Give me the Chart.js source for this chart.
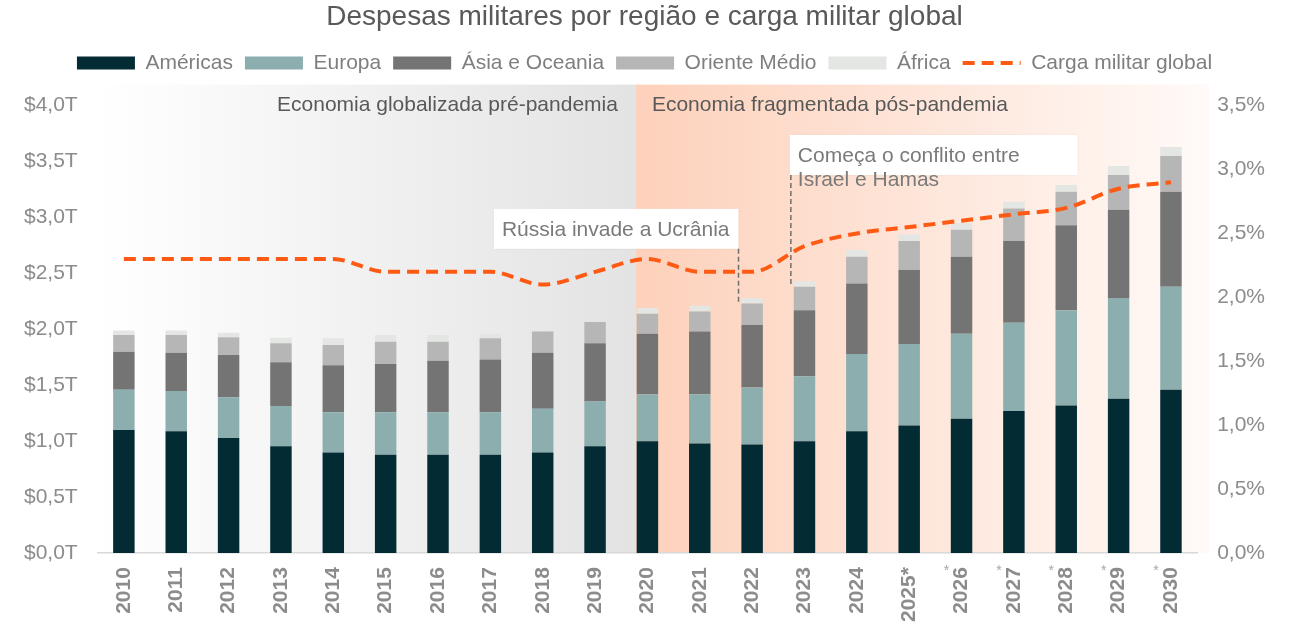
<!DOCTYPE html>
<html>
<head>
<meta charset="utf-8">
<script src="https://cdn.jsdelivr.net/npm/chart.js@4.4.0/dist/chart.umd.min.js"></script>
<style>
  html, body { margin: 0; padding: 0; background: #fff; }
  #wrap { width: 1297px; height: 632px; }
</style>
</head>
<body>
<div id="wrap"><canvas id="militaryChart"></canvas></div>
<script>
const years = ['2010', '2011', '2012', '2013', '2014', '2015', '2016', '2017', '2018', '2019',
  '2020', '2021', '2022', '2023', '2024', '2025*', '2026', '2027', '2028', '2029', '2030']
const starredYears = ['2026', '2027', '2028', '2029', '2030']

// trillions of USD
const americas = [1.10, 1.09, 1.03, 0.955, 0.90, 0.88, 0.88, 0.88, 0.90, 0.955,
  1.00, 0.98, 0.97, 1.00, 1.09, 1.14, 1.20, 1.27, 1.32, 1.38, 1.46]
const europe = [0.36, 0.36, 0.36, 0.36, 0.36, 0.38, 0.38, 0.38, 0.39, 0.40,
  0.42, 0.44, 0.51, 0.58, 0.69, 0.73, 0.76, 0.79, 0.85, 0.90, 0.92]
const asiaOceania = [0.34, 0.34, 0.38, 0.39, 0.42, 0.43, 0.46, 0.47, 0.50, 0.52,
  0.54, 0.56, 0.56, 0.59, 0.63, 0.66, 0.69, 0.73, 0.76, 0.79, 0.85]
const middleEast = [0.15, 0.16, 0.16, 0.17, 0.18, 0.20, 0.17, 0.19, 0.19, 0.19,
  0.18, 0.18, 0.19, 0.21, 0.24, 0.26, 0.24, 0.29, 0.30, 0.31, 0.32]
const africa = [0.04, 0.04, 0.04, 0.05, 0.06, 0.06, 0.06, 0.04, 0.01, 0.01,
  0.05, 0.05, 0.05, 0.05, 0.06, 0.06, 0.06, 0.06, 0.06, 0.08, 0.08]
// percent of global GDP
const militaryBurden = [2.3, 2.3, 2.3, 2.3, 2.3, 2.2, 2.2, 2.2, 2.1, 2.2,
  2.3, 2.2, 2.2, 2.4, 2.5, 2.55, 2.6, 2.65, 2.7, 2.85, 2.9]

const eraLabels = ['Economia globalizada pré-pandemia', 'Economia fragmentada pós-pandemia']
const eraSplitYear = '2020'

const events = [
  { lines: ['Rússia invade a Ucrânia'], year: '2022', boxBottom: 2.72, lineEnd: 2.23, side: 'left' },
  { lines: ['Começa o conflito entre', 'Israel e Hamas'], year: '2023', boxBottom: 3.38, lineEnd: 2.40, side: 'right' }
]

const FONT = '"Liberation Sans", Arial, sans-serif'
const textGray = '#595959'
const tickGray = '#8c8c8c'
const burdenDash = [12, 7]

const ctx = document.getElementById('militaryChart').getContext('2d')

function barSet(label, data, color) {
  return {
    type: 'bar',
    label: label,
    data: data,
    backgroundColor: color,
    borderWidth: 0,
    pointStyle: 'rect',
    yAxisID: 'y',
    order: 2,
    categoryPercentage: 0.41,
    barPercentage: 1
  }
}

const legendSpace = {
  id: 'legendSpace',
  beforeInit(chart) {
    const fit = chart.legend.fit
    chart.legend.fit = function () {
      fit.bind(chart.legend)()
      this.height += 22
    }
  }
}

const backdrop = {
  id: 'backdrop',
  beforeDraw(chart) {
    const { ctx, chartArea, scales } = chart
    const x = scales.x
    const step = x.width / years.length
    const top = chartArea.top - 21
    const bottom = chartArea.bottom
    const split = x.getPixelForValue(years.indexOf(eraSplitYear)) - step * 0.22
    const right = chartArea.right + 12

    ctx.save()
    let g = ctx.createLinearGradient(chartArea.left, 0, split, 0)
    g.addColorStop(0, '#ffffff')
    g.addColorStop(1, '#e3e3e3')
    ctx.fillStyle = g
    ctx.fillRect(chartArea.left, top, split - chartArea.left, bottom - top)

    g = ctx.createLinearGradient(split, 0, right, 0)
    g.addColorStop(0, '#fdd1bb')
    g.addColorStop(1, '#fffaf8')
    ctx.fillStyle = g
    ctx.fillRect(split, top, right - split, bottom - top)

    ctx.font = '21px ' + FONT
    ctx.fillStyle = textGray
    ctx.textBaseline = 'middle'
    ctx.textAlign = 'right'
    ctx.fillText(eraLabels[0], split - 18, chartArea.top)
    ctx.textAlign = 'left'
    ctx.fillText(eraLabels[1], split + 16, chartArea.top)
    ctx.restore()
  }
}

const callouts = {
  id: 'callouts',
  afterDraw(chart) {
    const { ctx, chartArea, scales } = chart
    const x = scales.x
    const y = scales.y
    const step = x.width / years.length
    ctx.save()
    ctx.font = '21px ' + FONT
    events.forEach(ev => {
      const lineX = x.getPixelForValue(years.indexOf(ev.year)) - step * 0.26
      const bottom = y.getPixelForValue(ev.boxBottom)
      const textW = ctx.measureText(ev.lines[0]).width
      const boxH = 40
      let boxL, boxW
      if (ev.side === 'left') {
        boxW = textW + 17
        boxL = lineX - boxW
      } else {
        boxW = textW + 66
        boxL = lineX - 1
      }
      ctx.fillStyle = '#ffffff'
      ctx.shadowColor = 'rgba(0,0,0,0.08)'
      ctx.shadowBlur = 3
      ctx.fillRect(boxL, bottom - boxH, boxW, boxH)
      ctx.shadowBlur = 0
      ctx.shadowColor = 'transparent'

      ctx.strokeStyle = '#6f6f6f'
      ctx.lineWidth = 1.5
      ctx.setLineDash([5, 3])
      ctx.beginPath()
      ctx.moveTo(lineX, bottom)
      ctx.lineTo(lineX, y.getPixelForValue(ev.lineEnd))
      ctx.stroke()
      ctx.setLineDash([])

      ctx.fillStyle = '#7a7a7a'
      ctx.textAlign = 'left'
      ctx.textBaseline = 'middle'
      ev.lines.forEach((line, i) => {
        ctx.fillText(line, boxL + 8, bottom - boxH / 2 + 1 + i * 24)
      })
    })

    // footnote marks on projected years
    ctx.font = '14px ' + FONT
    ctx.fillStyle = '#a6a6a6'
    ctx.textAlign = 'center'
    ctx.textBaseline = 'middle'
    starredYears.forEach(yr => {
      const px = x.getPixelForValue(years.indexOf(yr))
      ctx.fillText('*', px - 15, chartArea.bottom + 18)
    })
    ctx.restore()
  }
}

new Chart(ctx, {
  data: {
    labels: years,
    datasets: [
      barSet('Américas', americas, '#022b34'),
      barSet('Europa', europe, '#8daeae'),
      barSet('Ásia e Oceania', asiaOceania, '#747474'),
      barSet('Oriente Médio', middleEast, '#b6b6b6'),
      barSet('África', africa, '#e4e6e4'),
      {
        type: 'line',
        label: 'Carga militar global',
        data: militaryBurden,
        borderColor: '#fe5a14',
        backgroundColor: '#fe5a14',
        borderWidth: 4,
        borderDash: burdenDash,
        borderCapStyle: 'butt',
        cubicInterpolationMode: 'monotone',
        pointRadius: 0,
        pointStyle: 'line',
        yAxisID: 'y1',
        order: 0
      }
    ]
  },
  options: {
    responsive: true,
    maintainAspectRatio: false,
    animation: false,
    layout: { padding: { left: 12, right: 20, top: 0, bottom: 4 } },
    plugins: {
      title: {
        display: true,
        text: 'Despesas militares por região e carga militar global',
        color: textGray,
        font: { family: FONT, size: 28, weight: 'normal' },
        padding: { top: 0, bottom: 7 }
      },
      legend: {
        display: true,
        labels: {
          usePointStyle: true,
          pointStyleWidth: 58,
          boxHeight: 13,
          color: '#7f7f7f',
          font: { family: FONT, size: 21 },
          padding: 12,
          sort: (a, b) => a.datasetIndex - b.datasetIndex,
          generateLabels(chart) {
            const items = Chart.defaults.plugins.legend.labels.generateLabels(chart)
            items.forEach(item => {
              if (item.pointStyle === 'line') {
                item.lineDash = burdenDash
                item.lineWidth = 4
                item.strokeStyle = '#fe5a14'
              }
            })
            return items
          }
        }
      },
      tooltip: { enabled: false }
    },
    scales: {
      x: {
        stacked: true,
        grid: { display: false },
        border: { display: true, color: '#d9d9d9', width: 1.5 },
        ticks: {
          color: tickGray,
          font: { family: FONT, size: 21, weight: 'bold' },
          minRotation: 90,
          maxRotation: 90,
          padding: 6
        }
      },
      y: {
        stacked: true,
        position: 'left',
        min: 0,
        max: 4,
        grid: { display: false },
        border: { display: false },
        ticks: {
          stepSize: 0.5,
          color: tickGray,
          padding: 12,
          font: { family: FONT, size: 21 },
          callback: v => '$' + v.toFixed(1).replace('.', ',') + 'T'
        }
      },
      y1: {
        position: 'right',
        min: 0,
        max: 3.5,
        grid: { display: false },
        border: { display: false },
        ticks: {
          stepSize: 0.5,
          color: tickGray,
          padding: 12,
          font: { family: FONT, size: 21 },
          callback: v => v.toFixed(1).replace('.', ',') + '%'
        }
      }
    }
  },
  plugins: [legendSpace, backdrop, callouts]
})
</script>
</body>
</html>
